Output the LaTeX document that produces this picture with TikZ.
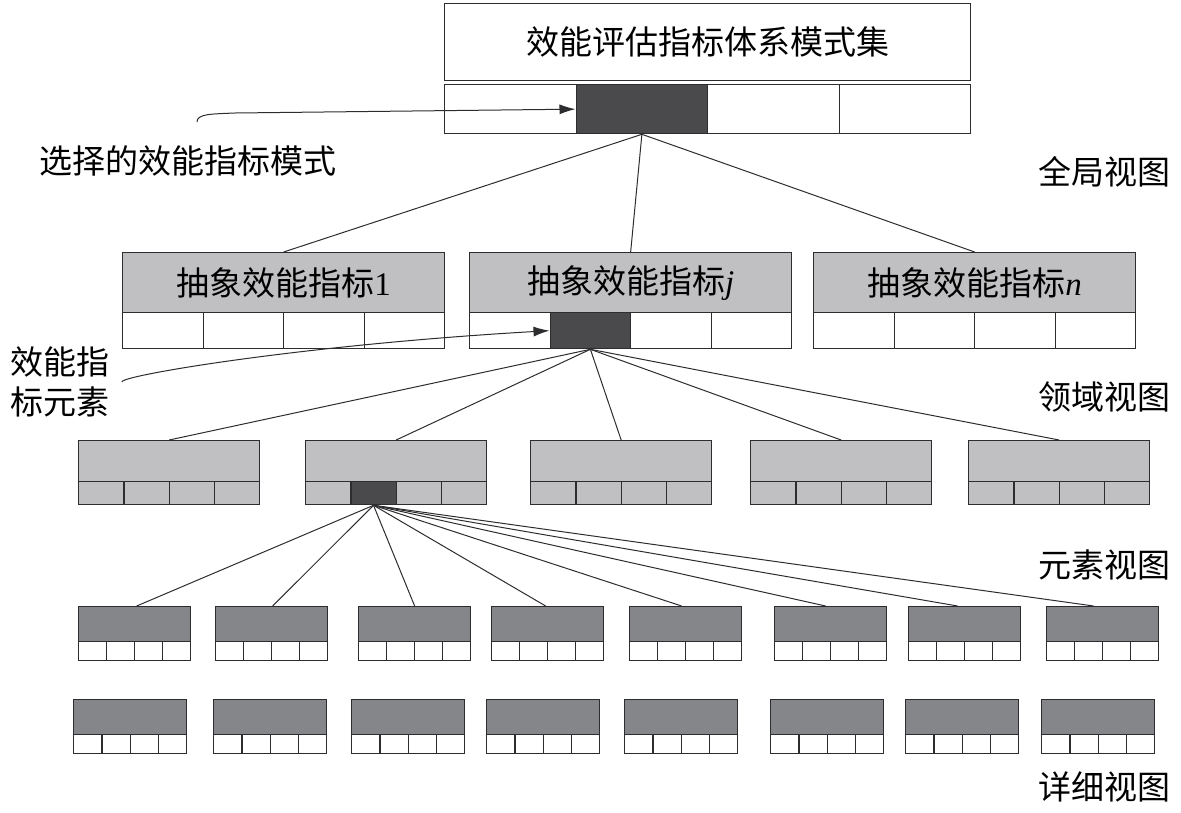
\documentclass[tikz,border=0pt]{standalone}
\usepackage{fontspec}
\setmainfont{Liberation Serif}
\newfontfamily\cjk{Noto Sans CJK SC}
\usetikzlibrary{arrows.meta}

\definecolor{linegray}{RGB}{45,45,48}
\definecolor{hdrgray}{RGB}{192,192,194}
\definecolor{darkcell}{RGB}{74,74,77}
\definecolor{elemgray}{RGB}{133,134,137}

\begin{document}
\begin{tikzpicture}[x=1pt,y=-1pt,>={Latex[length=16pt,width=10pt]},
    every node/.style={font=\fontsize{33pt}{40pt}\selectfont},
    box/.style={draw=linegray,line width=1.3pt,inner sep=0pt,anchor=north west},
    link/.style={draw=linegray,line width=1pt}]
    \useasboundingbox (0,0) rectangle (1181,812);

    % pattern set
    \node[box,fill=white,minimum width=526pt,minimum height=77pt] (set) at (444,3) {\cjk 效能评估指标体系模式集};
    \foreach \i/\f in {1/white,2/darkcell,3/white,4/white}
      \node[box,fill=\f,minimum width=131.5pt,minimum height=49pt] (set-\i) at ({444+(\i-1)*131.5},84) {};

    % abstract indicators
    \foreach \x/\k/\t in {122/1/1,469/j/\textit{j},813/n/\textit{n}} {
      \node[box,fill=hdrgray,minimum width=322pt,minimum height=60pt] (abs\k) at (\x,252) {{\cjk 抽象效能指标}\t};
      \foreach \i in {1,...,4}
        \node[box,fill=white,minimum width=80.5pt,minimum height=36pt] (abs\k-\i) at ({\x+(\i-1)*80.5},312) {};
    }
    \node[box,fill=darkcell,minimum width=80.5pt,minimum height=36pt] (absj-2) at (549.5,312) {};

    % domain view
    \foreach \x [count=\k] in {78,305,530,750,968} {
      \node[box,fill=hdrgray,minimum width=181pt,minimum height=41pt] (dom\k) at (\x,440) {};
      \foreach \i in {1,...,4}
        \node[box,fill=hdrgray,minimum width=45.25pt,minimum height=23pt] (dom\k-\i) at ({\x+(\i-1)*45.25},481) {};
    }
    \node[box,fill=darkcell,minimum width=45.25pt,minimum height=23pt] (dom2-2) at (350.25,481) {};

    % element view
    \foreach \x [count=\k] in {78,215,358,491,629,774,908,1046} {
      \node[box,fill=elemgray,minimum width=112pt,minimum height=35pt] (el\k) at (\x,606) {};
      \foreach \i in {1,...,4}
        \node[box,fill=white,minimum width=28pt,minimum height=19pt] (el\k-\i) at ({\x+(\i-1)*28},641) {};
    }

    % detail view
    \foreach \x [count=\k] in {73,213,351,486,624,770,905,1041} {
      \node[box,fill=elemgray,minimum width=113pt,minimum height=35pt] (det\k) at (\x,699) {};
      \foreach \i in {1,...,4}
        \node[box,fill=white,minimum width=28.25pt,minimum height=19pt] (det\k-\i) at ({\x+(\i-1)*28.25},734) {};
    }

    % connectors
    \foreach \k in {1,j,n}
      \draw[link] (set-2.south) -- (abs\k.north);
    \foreach \k in {1,...,5}
      \draw[link] (absj-2.south) -- (dom\k.north);
    \foreach \k/\dx in {1/2,2/1,3/0,4/-2,5/-4,6/-5,7/-7,8/-9}
      \draw[link] (dom2-2.south) -- ([xshift=\dx pt]el\k.north);

    % side labels
    \node (sel) at (188,161) {\cjk 选择的效能指标模式};
    \node[align=left] (elem) at (60,382) {\cjk 效能指\\\cjk 标元素};
    \node (glob) at (1104,172) {\cjk 全局视图};
    \node (domv) at (1104,397) {\cjk 领域视图};
    \node (elv) at (1104,565) {\cjk 元素视图};
    \node (detv) at (1104,787) {\cjk 详细视图};

    \coordinate (sel-from) at (197,122);
    \coordinate (elem-from) at (122,382);
    \draw[link,->] (sel-from) .. controls (197,114) and (210,114) .. (235,113) -- (set-2.west);
    \draw[link,->] (elem-from) .. controls (118,376) and (300,345) .. (absj-2.west);
  \end{tikzpicture}
\end{document}
